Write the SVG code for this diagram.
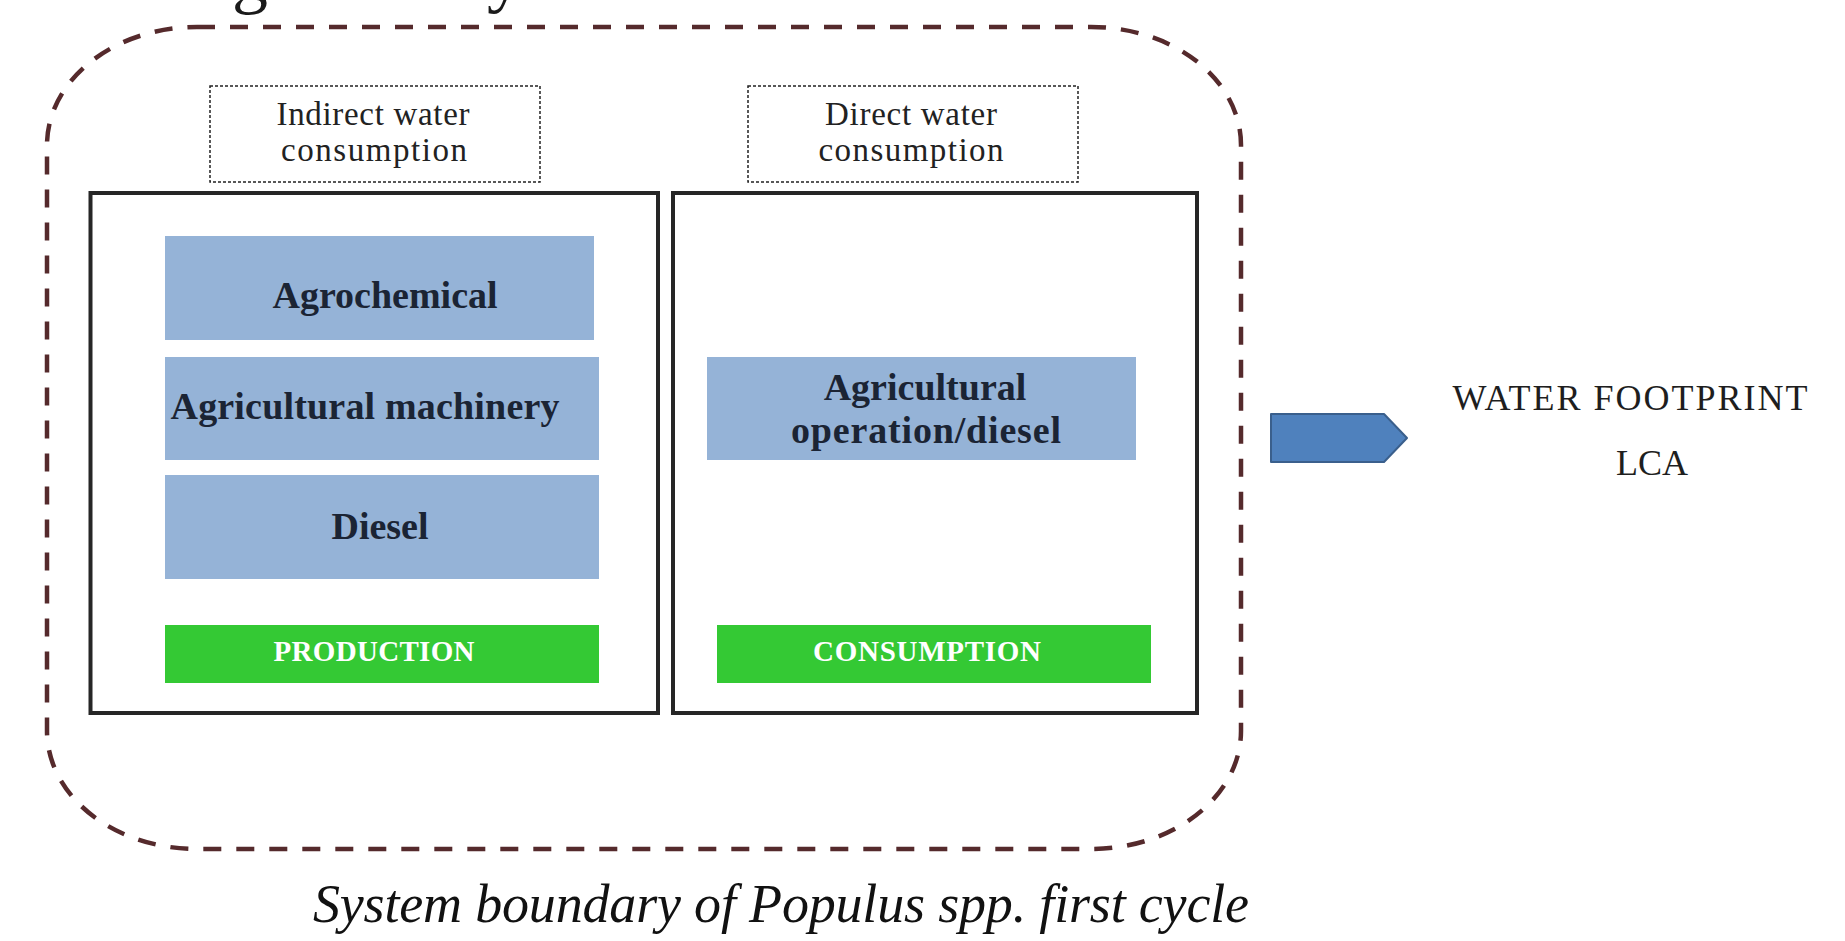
<svg xmlns="http://www.w3.org/2000/svg" width="1845" height="941" viewBox="0 0 1845 941">
  <style>
    .serif { font-family: "Liberation Serif", "Times New Roman", serif; }
    .boundary { fill: none; stroke: #552a2c; stroke-width: 4.5; stroke-dasharray: 18 15; }
    .stage { fill: #ffffff; stroke: #262626; stroke-width: 4; }
    .note { fill: #ffffff; stroke: #222222; stroke-width: 1.5; stroke-dasharray: 3 2; }
    .item { fill: #95b3d7; }
    .phase { fill: #34c934; }
    .item-label { font-size: 38px; font-weight: bold; fill: #1b2434; text-anchor: middle; }
    .phase-label { font-size: 29px; font-weight: bold; fill: #ffffff; text-anchor: middle; }
    .note-label { font-size: 33px; fill: #222222; text-anchor: middle; }
    .result-label { font-size: 36px; fill: #1e1e1e; text-anchor: middle; }
  </style>

  <rect width="1845" height="941" fill="#ffffff"/>

  <!-- heading fragments clipped at the top edge -->
  <g id="heading-fragment" class="serif" font-size="72" fill="#1a1a1a">
    <text x="232" y="0">g</text>
    <text x="487" y="-1">y</text>
  </g>

  <!-- system boundary -->
  <g id="system-boundary">
    <rect class="boundary" x="47" y="27" width="1194" height="822" rx="150" ry="118"/>
  </g>

  <!-- water consumption notes -->
  <g id="indirect-note">
    <rect class="note" x="210" y="86" width="330" height="96"/>
    <text class="serif note-label" x="373" y="125" textLength="193">Indirect water</text>
    <text class="serif note-label" x="374" y="161" textLength="186">consumption</text>
  </g>
  <g id="direct-note">
    <rect class="note" x="748" y="86" width="330" height="96"/>
    <text class="serif note-label" x="911" y="125" textLength="172">Direct water</text>
    <text class="serif note-label" x="911" y="161" textLength="185">consumption</text>
  </g>

  <!-- production stage -->
  <g id="production-stage">
    <rect class="stage" x="90.5" y="193" width="567.5" height="520"/>
  </g>
  <g id="agrochemical">
    <rect class="item" x="165" y="236" width="429" height="104"/>
    <text class="serif item-label" x="385" y="308">Agrochemical</text>
  </g>
  <g id="agricultural-machinery">
    <rect class="item" x="165" y="357" width="434" height="103"/>
    <text class="serif item-label" x="365" y="419" textLength="389">Agricultural machinery</text>
  </g>
  <g id="diesel">
    <rect class="item" x="165" y="475" width="434" height="104"/>
    <text class="serif item-label" x="380" y="539">Diesel</text>
  </g>
  <g id="production">
    <rect class="phase" x="165" y="625" width="434" height="58"/>
    <text class="serif phase-label" x="374" y="661" textLength="201">PRODUCTION</text>
  </g>

  <!-- consumption stage -->
  <g id="consumption-stage">
    <rect class="stage" x="673" y="193" width="524" height="520"/>
  </g>
  <g id="agricultural-operation">
    <rect class="item" x="707" y="357" width="429" height="103"/>
    <text class="serif item-label" x="925" y="400">Agricultural</text>
    <text class="serif item-label" x="926" y="443" textLength="270">operation/diesel</text>
  </g>
  <g id="consumption">
    <rect class="phase" x="717" y="625" width="434" height="58"/>
    <text class="serif phase-label" x="927" y="661" textLength="228">CONSUMPTION</text>
  </g>

  <!-- output arrow -->
  <g id="connectors">
    <path d="M1271 414 L1384 414 L1407 438 L1384 462 L1271 462 Z" fill="#4f81bd" stroke="#3a5f8c" stroke-width="2" stroke-linejoin="round"/>
  </g>

  <!-- result -->
  <g id="water-footprint">
    <text class="serif result-label" x="1630" y="410" textLength="355">WATER FOOTPRINT</text>
    <text class="serif result-label" x="1652" y="475">LCA</text>
  </g>

  <!-- caption -->
  <g id="caption">
    <text class="serif" x="313" y="922" font-size="54" font-style="italic" fill="#111111" textLength="936">System boundary of Populus spp. first cycle</text>
  </g>
</svg>
